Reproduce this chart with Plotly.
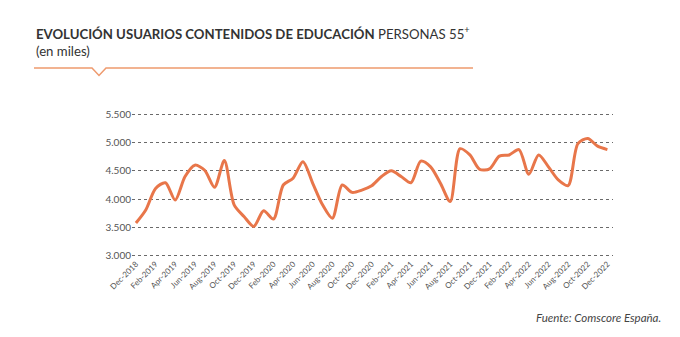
import plotly.graph_objects as go

months = ["Dec-2018","Jan-2019","Feb-2019","Mar-2019","Apr-2019","May-2019","Jun-2019","Jul-2019",
          "Aug-2019","Sep-2019","Oct-2019","Nov-2019","Dec-2019","Jan-2020","Feb-2020","Mar-2020",
          "Apr-2020","May-2020","Jun-2020","Jul-2020","Aug-2020","Sep-2020","Oct-2020","Nov-2020",
          "Dec-2020","Jan-2021","Feb-2021","Mar-2021","Apr-2021","May-2021","Jun-2021","Jul-2021",
          "Aug-2021","Sep-2021","Oct-2021","Nov-2021","Dec-2021","Jan-2022","Feb-2022","Mar-2022",
          "Apr-2022","May-2022","Jun-2022","Jul-2022","Aug-2022","Sep-2022","Oct-2022","Nov-2022",
          "Dec-2022"]
usuarios = [3580, 3810, 4190, 4290, 3985, 4400, 4600, 4510, 4210, 4680, 3900, 3695,
            3520, 3795, 3650, 4250, 4370, 4660, 4280, 3900, 3665, 4250, 4120, 4160,
            4235, 4400, 4500, 4400, 4290, 4670, 4570, 4280, 3960, 4890, 4780, 4525,
            4535, 4760, 4780, 4875, 4440, 4780, 4570, 4340, 4240, 4980, 5070, 4935,
            4875]
y_ticks = [3000, 3500, 4000, 4500, 5000, 5500]

W, H = 680, 337
L, R, T, B = 132, 67, 112.6, 80
PW, PH = W - L - R, H - T - B

def px(x):
    return (x - L) / PW

def py(y):
    return (H - B - y) / PH

xi = list(range(len(months)))
tickvals = xi[::2]
ticktext = months[::2]

fig = go.Figure()
fig.add_trace(go.Scatter(
    x=xi, y=usuarios, mode="lines",
    line=dict(color="#E8764A", width=3, shape="spline", smoothing=0.8),
    hoverinfo="skip", showlegend=False,
))

gray = "#555555"
fig.update_layout(
    width=W, height=H,
    margin=dict(l=L, r=R, t=T, b=B),
    paper_bgcolor="white", plot_bgcolor="white",
    separators=",.",
    font=dict(family="Lato", color=gray),
    xaxis=dict(range=[-0.4, 48.57], tickvals=tickvals, ticktext=ticktext,
               tickangle=-45, showgrid=False, zeroline=False, showline=False,
               tickfont=dict(size=8, color=gray), ticks=""),
    yaxis=dict(range=[2980, 5520], tickvals=y_ticks, tickformat=",d",
               showgrid=True, gridcolor="#6a6a6a", gridwidth=1, griddash="3px,3px",
               zeroline=False, showline=False, ticks="",
               tickfont=dict(size=10, color=gray)),
)

fig.add_annotation(
    xref="paper", yref="paper", x=px(34), y=py(21), xanchor="left", yanchor="top",
    text="<b>EVOLUCIÓN USUARIOS CONTENIDOS DE EDUCACIÓN</b> PERSONAS 55<sup>+</sup><br>(en miles)",
    showarrow=False, align="left", font=dict(family="Lato", size=13.2, color="#333333"),
)
fig.add_annotation(
    xref="paper", yref="paper", x=px(663), y=py(318), xanchor="right", yanchor="middle",
    text="<i>Fuente: Comscore España.</i>",
    showarrow=False, font=dict(family="Lato", size=11.5, color="#444444"),
)
path = "M {},{} L {},{} L {},{} L {},{} L {},{}".format(
    px(34), py(67.5), px(92), py(67.5), px(99), py(75), px(106), py(67.5), px(473), py(67.5))
fig.add_shape(type="path", xref="paper", yref="paper", path=path,
              line=dict(color="#EE9A6E", width=1.5))

fig.write_html("out.html")
